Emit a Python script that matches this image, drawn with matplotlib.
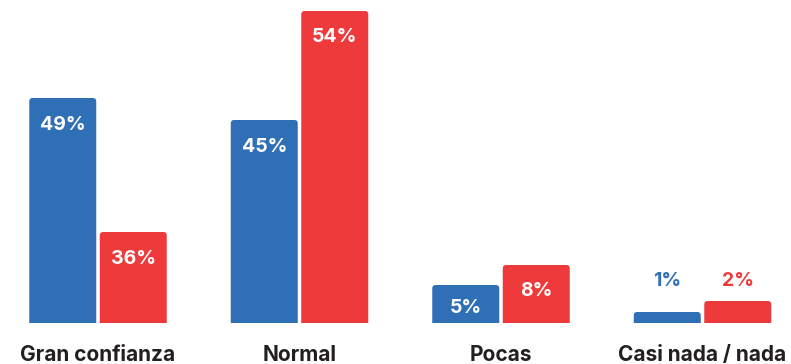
import matplotlib
matplotlib.use("Agg")
import matplotlib.pyplot as plt
from matplotlib.path import Path
from matplotlib.patches import PathPatch

categories = ["Gran confianza", "Normal", "Pocas", "Casi nada / nada"]
blue_values = [49, 45, 5, 1]
red_values = [36, 54, 8, 2]
# drawn bar heights as they appear in the reference (not proportional to labels)
blue_heights = [225, 203, 38, 11]
red_heights = [91, 312, 58, 22]

BLUE = "#2F6FB6"
RED = "#EE3A3A"
DARK = "#231F20"

FONT = ["Inter", "DejaVu Sans"]

W, H = 791, 364
fig = plt.figure(figsize=(W / 100, H / 100), dpi=100)
ax = fig.add_axes([0, 0, 1, 1])
spacing_px = 201.5
first_px = 98.0
ax.set_xlim(-first_px / spacing_px, (W - first_px) / spacing_px)
ax.set_ylim(-41, H - 41)
ax.axis("off")

bw = 67 / spacing_px
off = (67 + 3.5) / 2 / spacing_px
rx = 3.5 / spacing_px
ry = 3.5


def rounded_bar(x, h, color):
    x0, x1 = x - bw / 2, x + bw / 2
    r_y = min(ry, h)
    verts = [(x0, 0), (x0, h - r_y), (x0, h), (x0 + rx, h),
             (x1 - rx, h), (x1, h), (x1, h - r_y), (x1, 0), (x0, 0)]
    codes = [Path.MOVETO, Path.LINETO, Path.CURVE3, Path.CURVE3,
             Path.LINETO, Path.CURVE3, Path.CURVE3, Path.LINETO, Path.CLOSEPOLY]
    ax.add_patch(PathPatch(Path(verts, codes), facecolor=color, edgecolor="none"))


for i, cat in enumerate(categories):
    pairs = [(i - off, blue_heights[i], blue_values[i], BLUE),
             (i + off, red_heights[i], red_values[i], RED)]
    group_top = max(blue_heights[i], red_heights[i])
    for x, h, v, c in pairs:
        rounded_bar(x, h, c)
        label = f"{v}%"
        if h >= 30:
            y = h - min(26.5, h - 15)
            ax.text(x, y, label, ha="center", va="center", color="white",
                    fontsize=14, fontweight="bold", family=FONT)
        else:
            ax.text(x, group_top + 19.5, label, ha="center", va="center",
                    color=c, fontsize=14, fontweight="bold", family=FONT)
    ax.text(i, -38, cat, ha="center", va="baseline", color=DARK,
            fontsize=15, fontweight="bold", family=FONT)

fig.savefig("out.png", dpi=100)
